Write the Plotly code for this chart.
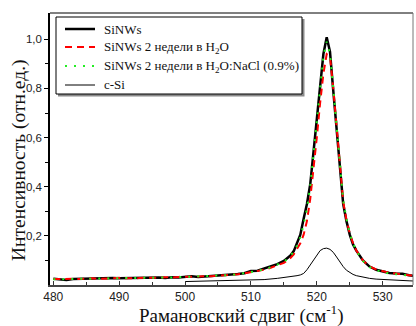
import plotly.graph_objects as go

# ---- data ----
shift = [480, 481, 482, 483, 484, 485, 486, 487, 488, 489, 490, 491, 492, 493, 494,
         495, 496, 497, 498, 499, 500, 501, 502, 503, 504, 505, 506, 507, 508, 509,
         510, 511, 512, 513, 514,
         515, 515.5, 516, 516.5, 517, 517.5, 518, 518.5, 519, 519.5, 520, 520.5,
         521, 521.5, 522, 522.5, 523, 523.5, 524, 524.5, 525, 525.5, 526,
         527, 528, 529, 530, 531, 532, 533, 534, 535]

sinws = [0.025, 0.024, 0.020, 0.024, 0.025, 0.026, 0.025, 0.027, 0.026, 0.028, 0.027,
         0.028, 0.027, 0.030, 0.028, 0.029, 0.031, 0.029, 0.032, 0.031, 0.034, 0.036,
         0.033, 0.035, 0.037, 0.036, 0.040, 0.042, 0.045, 0.048, 0.057, 0.058, 0.066,
         0.074, 0.085,
         0.098, 0.108, 0.120, 0.138, 0.168, 0.205, 0.270, 0.330, 0.410, 0.550, 0.670,
         0.810, 0.940, 1.008, 0.950, 0.790, 0.640, 0.470, 0.330, 0.260, 0.205, 0.165,
         0.140,
         0.100, 0.075, 0.062, 0.054, 0.049, 0.047, 0.046, 0.040, 0.036]

sinws_h2o = [0.024, 0.025, 0.023, 0.025, 0.024, 0.026, 0.027, 0.025, 0.027, 0.027, 0.029,
             0.027, 0.029, 0.028, 0.030, 0.029, 0.030, 0.032, 0.030, 0.033, 0.032, 0.034,
             0.035, 0.034, 0.036, 0.038, 0.039, 0.041, 0.044, 0.047, 0.052, 0.056, 0.062,
             0.070, 0.080,
             0.090, 0.100, 0.110, 0.125, 0.145, 0.170, 0.205, 0.260, 0.350, 0.470, 0.600,
             0.740, 0.860, 0.940, 0.930, 0.800, 0.640, 0.480, 0.340, 0.265, 0.210, 0.170,
             0.140,
             0.100, 0.076, 0.063, 0.055, 0.050, 0.047, 0.045, 0.040, 0.037]

sinws_nacl = [0.023, 0.024, 0.022, 0.024, 0.025, 0.025, 0.026, 0.026, 0.027, 0.026, 0.028,
              0.028, 0.028, 0.029, 0.029, 0.030, 0.030, 0.031, 0.031, 0.032, 0.033, 0.033,
              0.034, 0.035, 0.036, 0.037, 0.038, 0.041, 0.044, 0.047, 0.053, 0.057, 0.064,
              0.072, 0.083,
              0.095, 0.105, 0.118, 0.135, 0.160, 0.195, 0.245, 0.310, 0.400, 0.530, 0.660,
              0.800, 0.930, 0.990, 0.940, 0.800, 0.640, 0.480, 0.345, 0.270, 0.210, 0.170,
              0.140,
              0.098, 0.073, 0.060, 0.052, 0.047, 0.044, 0.042, 0.038, 0.035]

csi_shift = [500, 502, 504, 506, 508, 510, 512, 514, 515, 516, 517, 517.5, 518, 518.5,
             519, 519.5, 520, 520.5, 521, 521.5, 522, 522.5, 523, 523.5, 524, 524.5,
             525, 525.5, 526, 527, 528, 529, 530, 531, 532, 533, 534, 535]
csi = [0.014, 0.015, 0.016, 0.017, 0.018, 0.019, 0.022, 0.027, 0.030, 0.034, 0.038,
       0.041, 0.047, 0.062, 0.082, 0.103, 0.124, 0.140, 0.148, 0.150, 0.145, 0.133,
       0.114, 0.094, 0.075, 0.060, 0.050, 0.043, 0.038, 0.031, 0.027, 0.024, 0.022,
       0.020, 0.019, 0.018, 0.017, 0.016]

names = ["SiNWs",
         "SiNWs 2 недели в H<sub>2</sub>O",
         "SiNWs 2 недели в H<sub>2</sub>O:NaCl (0.9%)",
         "c-Si"]

x_ticks = [480, 490, 500, 510, 520, 530]
y_ticks = [0.2, 0.4, 0.6, 0.8, 1.0]
y_labels = ["0,2", "0,4", "0,6", "0,8", "1,0"]

SERIF = "Liberation Serif, Times New Roman, serif"
SANS = "Liberation Sans, Arial, sans-serif"

styles = [dict(color="black", width=2.5),
          dict(color="#ff0000", width=2, dash="7px,5px"),
          dict(color="#22ee22", width=2, dash="2px,7px"),
          dict(color="black", width=1)]

fig = go.Figure()
for xs, ys, nm, st in [(shift, sinws, names[0], styles[0]),
                       (shift, sinws_h2o, names[1], styles[1]),
                       (shift, sinws_nacl, names[2], styles[2]),
                       (csi_shift, csi, names[3], styles[3])]:
    fig.add_trace(go.Scatter(x=xs, y=ys, mode="lines", name=nm, line=st,
                             showlegend=False))

W, H = 416, 326
L, R, T, B = 50, 3, 13, 41
PW, PH = W - L - R, H - T - B


def px(xp):
    return (xp - L) / PW


def py(yp):
    return (H - B - yp) / PH


fig.update_layout(
    width=W, height=H,
    margin=dict(l=L, r=R, t=T, b=B, pad=0),
    paper_bgcolor="white", plot_bgcolor="white",
    showlegend=False,
    xaxis=dict(range=[479.5, 534.6], tickvals=x_ticks, ticks="inside", ticklen=4,
               tickcolor="#333", showgrid=False, zeroline=False,
               showline=True, linecolor="#444", linewidth=2,
               tickfont=dict(family=SANS, size=12, color="#222"),
               minor=dict(dtick=5, ticks="inside", ticklen=3, tickcolor="#333")),
    yaxis=dict(range=[0, 1.107], tickvals=y_ticks, ticktext=y_labels, ticks="outside",
               ticklen=4, tickcolor="black", showgrid=False, zeroline=False,
               showline=True, linecolor="black", linewidth=1.5,
               tickfont=dict(family=SANS, size=11.5, color="#222"),
               minor=dict(tickvals=[0.1, 0.3, 0.5, 0.7, 0.9], ticks="outside",
                          ticklen=3, tickcolor="black")),
)

# frame top and right
fig.add_shape(type="line", xref="paper", yref="paper", x0=0, x1=1, y0=1, y1=1,
              line=dict(color="black", width=1))
fig.add_shape(type="line", xref="paper", yref="paper", x0=1, x1=1, y0=0, y1=1,
              line=dict(color="#777", width=1))

# legend box with shadow
fig.add_shape(type="rect", xref="paper", yref="paper",
              x0=px(58), x1=px(304.5), y0=py(96.5), y1=py(19),
              fillcolor="#8a8a8a", line=dict(width=0), layer="above")
fig.add_shape(type="rect", xref="paper", yref="paper",
              x0=px(56), x1=px(302), y0=py(94), y1=py(17),
              fillcolor="white", line=dict(color="black", width=1), layer="above")
rows = [29, 47, 66, 85]
for yy, nm, st in zip(rows, names, styles):
    fig.add_shape(type="line", xref="paper", yref="paper",
                  x0=px(65), x1=px(95), y0=py(yy), y1=py(yy), line=st, layer="above")
    fig.add_annotation(text=nm, xref="paper", yref="paper", x=px(102), y=py(yy),
                       xanchor="left", yanchor="middle", showarrow=False,
                       font=dict(family=SERIF, size=13, color="#111"))

fig.add_annotation(text="Интенсивность (отн.ед.)", xref="paper", yref="paper",
                   x=px(19), y=py(160), xanchor="center", yanchor="middle", textangle=-90,
                   showarrow=False, font=dict(family=SERIF, size=19.5, color="#111"))
fig.add_annotation(text="Рамановский сдвиг (см<sup>-1</sup>)", xref="paper", yref="paper",
                   x=px(241.5), y=py(328.5), xanchor="center", yanchor="bottom",
                   showarrow=False, font=dict(family=SERIF, size=19, color="#111"))

fig.write_html("out.html")
